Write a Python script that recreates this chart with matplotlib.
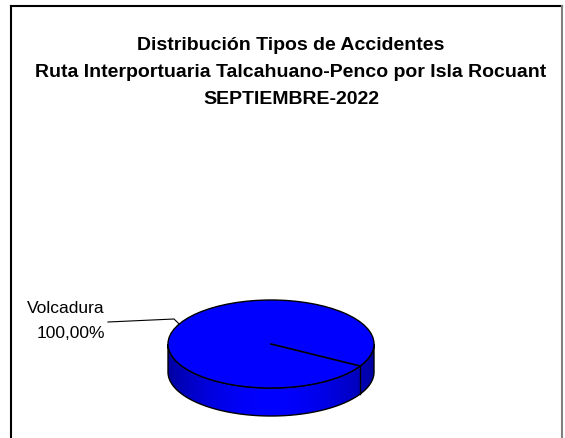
#!/usr/bin/env python3
# -*- coding: utf-8 -*-

import numpy as np
import matplotlib
matplotlib.use("Agg")
import matplotlib.pyplot as plt
from matplotlib.patches import Polygon, Ellipse

# data
categories = ["Volcadura"]
values = [100.0]
title_lines = ["Distribución Tipos de Accidentes",
               "Ruta Interportuaria Talcahuano-Penco por Isla Rocuant",
               "SEPTIEMBRE-2022"]

FONT = ["Liberation Sans Narrow", "Liberation Sans", "DejaVu Sans"]

W, H = 565, 439
fig = plt.figure(figsize=(W / 100, H / 100), dpi=100)
ax = fig.add_axes([0, 0, 1, 1])

# frame around the chart
ax.plot([11, 11], [7, H + 5], color="black", lw=1.5)
ax.plot([11, 562], [7, 7], color="black", lw=1.5)
ax.plot([562, 562], [7, H + 5], color="#808080", lw=1.5)

# titles
for i, t in enumerate(title_lines):
    ax.text(291, 50 + i * 26.8, t, ha="center", va="baseline",
            fontsize=14, fontweight="bold", family=FONT, color="black")

# 3d pie geometry (pixels)
cx, cy, rx, ry, depth = 271, 345, 103, 44, 28
start = -30.0
blue = "#0000ff"

fr = np.array(values) / np.sum(values)
bounds = start + 360 * np.concatenate([[0], np.cumsum(fr)])

def pt(a, dz=0):
    r = np.radians(a)
    return cx + rx * np.cos(r), cy - ry * np.sin(r) + dz

# side band (front half), gradient via clipped image
th = np.linspace(180, 360, 200)
top = [pt(a) for a in th]
bot = [pt(a, depth) for a in th[::-1]]
side = Polygon(top + bot, closed=True, facecolor="none", edgecolor="black", lw=1, zorder=2)
ax.add_patch(side)
grad = np.linspace(0, 1, 256)
shade = 0.62 + 0.38 * np.sin(np.pi * grad) ** 0.8
img = np.zeros((2, 256, 3))
img[:, :, 2] = shade
im = ax.imshow(img, extent=[cx - rx, cx + rx, cy + ry + depth + 2, cy - 2],
               aspect="auto", zorder=1, interpolation="bilinear")
im.set_clip_path(side)

# top face
ax.add_patch(Ellipse((cx, cy), 2 * rx, 2 * ry, facecolor=blue,
                     edgecolor="black", lw=1, zorder=3))

# slice boundaries
for b in bounds[:-1]:
    x1, y1 = pt(b)
    ax.plot([cx, x1], [cy, y1], color="black", lw=1.2, zorder=4)
    if 180 <= (b % 360) <= 360:
        ax.plot([x1, x1], [y1, y1 + depth], color="black", lw=1, zorder=4)

# label with leader line
lx, ly = pt(153)
ax.plot([108, 174, lx], [323, 320, ly], color="black", lw=0.8, zorder=5)
for cat, v in zip(categories, values):
    ax.text(105, 313, cat, ha="right", va="baseline", fontsize=12.5,
            family=FONT, color="black")
    ax.text(105, 338, ("%.2f%%" % (100 * v / np.sum(values))).replace(".", ","),
            ha="right", va="baseline", fontsize=12.5, family=FONT, color="black")

ax.set_xlim(0, W)
ax.set_ylim(H, 0)
ax.axis("off")

fig.savefig("out.png", dpi=100)
